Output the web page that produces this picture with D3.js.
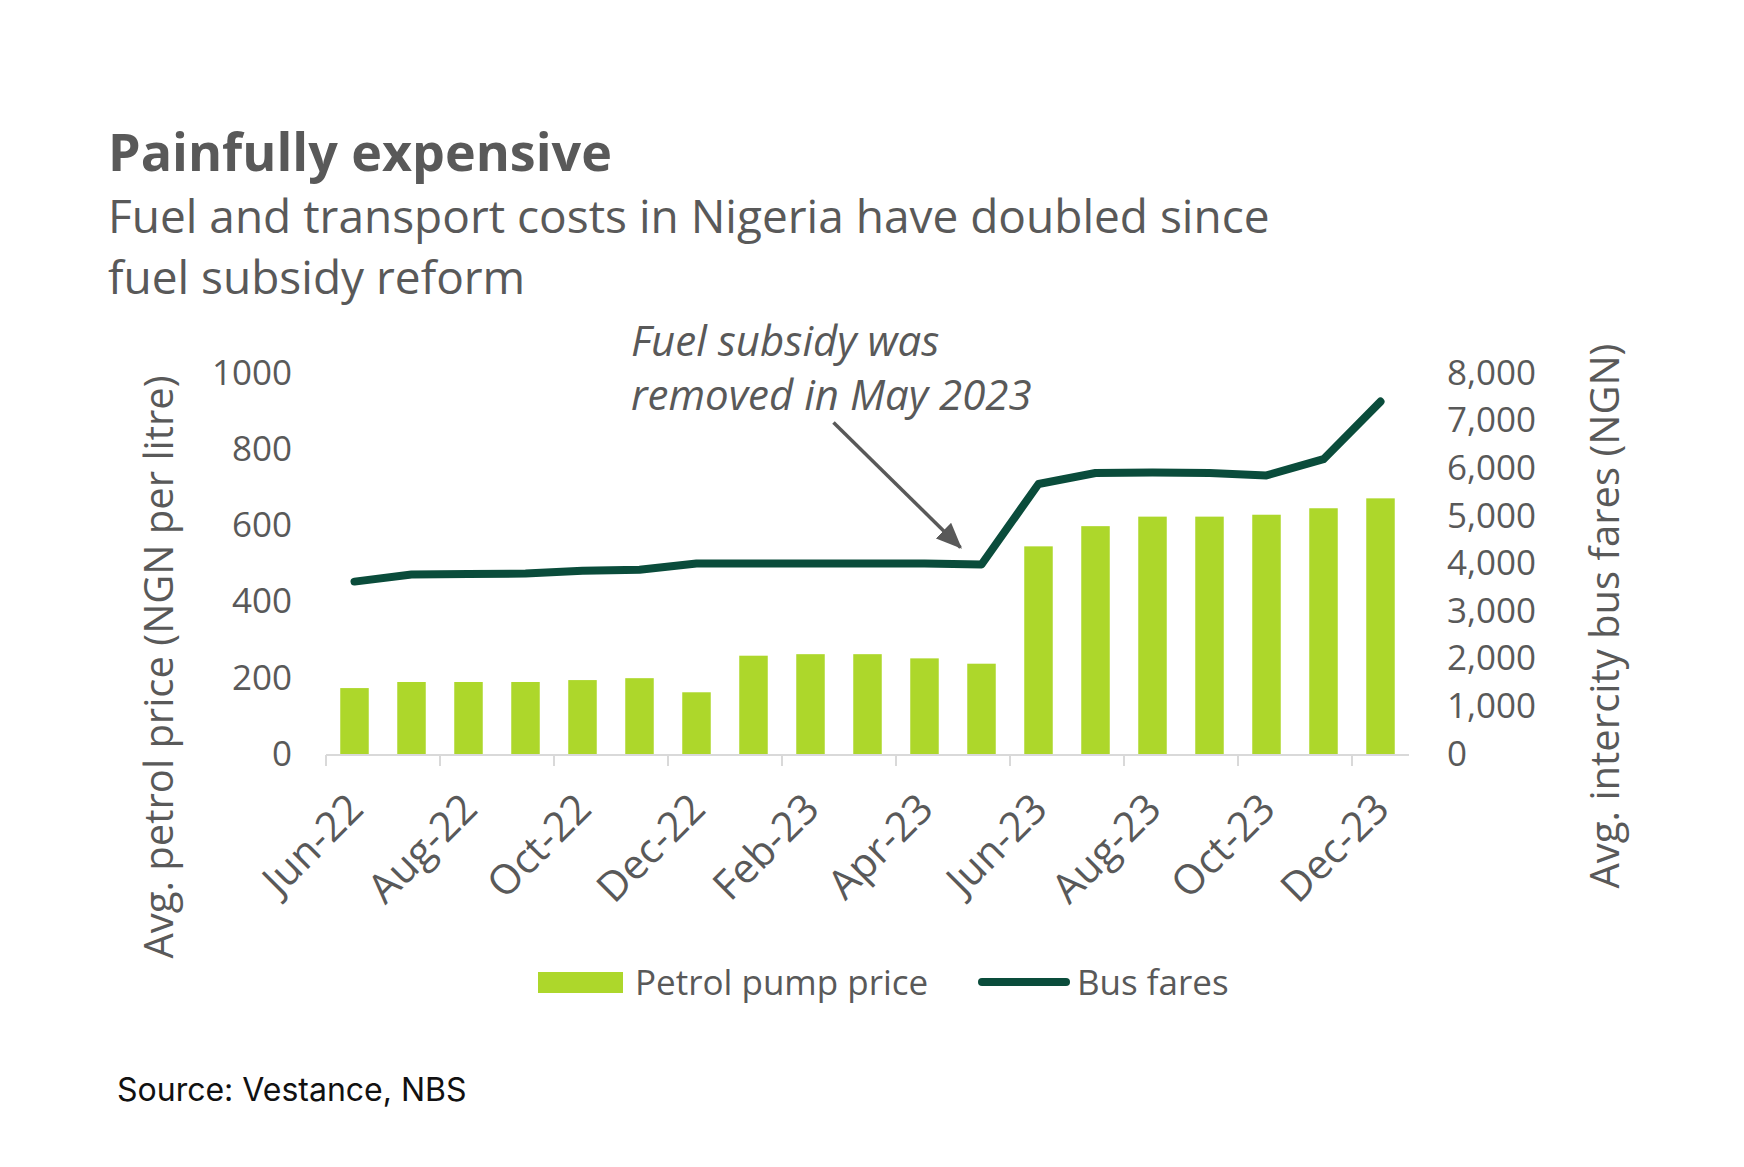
<!DOCTYPE html>
<html>
<head>
<meta charset="utf-8">
<script src="https://cdn.jsdelivr.net/npm/d3@7"></script>
<style>
  body { margin: 0; background: #fff; }
  text { font-family: "Open Sans", sans-serif; fill: #595959; }
</style>
</head>
<body>
<script>
// data
const months = ["Jun-22","Jul-22","Aug-22","Sep-22","Oct-22","Nov-22","Dec-22","Jan-23","Feb-23","Mar-23","Apr-23","May-23",
                "Jun-23","Jul-23","Aug-23","Sep-23","Oct-23","Nov-23","Dec-23"];
const petrol = [173, 189, 189, 189, 194, 199, 162, 258, 262, 262, 251, 237, 545, 598, 623, 623, 628, 645, 671];
const busFares = [3620, 3770, 3780, 3790, 3850, 3870, 4000, 4000, 4000, 4000, 4000, 3980, 5670, 5900, 5910, 5900, 5850, 6190, 7400];
const leftTicks = [0, 200, 400, 600, 800, 1000];
const rightTicks = [0, 1000, 2000, 3000, 4000, 5000, 6000, 7000, 8000];

const W = 1744, H = 1167;
const plotL = 326, plotR = 1409, plotT = 373, plotB = 754;

const svg = d3.select("body").append("svg").attr("width", W).attr("height", H);
svg.append("rect").attr("width", W).attr("height", H).attr("fill", "#fff");

const x = d3.scaleBand().domain(months).range([plotL, plotR]).padding(0);
const yL = d3.scaleLinear().domain([0, 1000]).range([plotB, plotT]);
const yR = d3.scaleLinear().domain([0, 8000]).range([plotB, plotT]);
const bw = x.bandwidth();

// titles
svg.append("text").attr("x", 108).attr("y", 171)
  .style("font-size", "52px").style("font-weight", 700).text("Painfully expensive");
svg.append("text").attr("x", 108).attr("y", 233)
  .style("font-size", "46px").text("Fuel and transport costs in Nigeria have doubled since");
svg.append("text").attr("x", 108).attr("y", 294)
  .style("font-size", "46px").text("fuel subsidy reform");

// bars
svg.selectAll("rect.bar").data(months).enter().append("rect")
  .attr("class", "bar")
  .attr("x", d => x(d) + bw * 0.25)
  .attr("width", bw * 0.5)
  .attr("y", (d, i) => yL(petrol[i]))
  .attr("height", (d, i) => yL(0) - yL(petrol[i]))
  .attr("fill", "#add72b");

// x axis line and ticks every second month
svg.append("line").attr("x1", plotL).attr("x2", plotR).attr("y1", plotB + 1).attr("y2", plotB + 1)
  .attr("stroke", "#d9d9d9").attr("stroke-width", 2);
const shown = months.filter((d, i) => i % 2 === 0);
svg.selectAll("line.tick").data(shown).enter().append("line")
  .attr("x1", d => x(d)).attr("x2", d => x(d))
  .attr("y1", plotB + 1).attr("y2", plotB + 12)
  .attr("stroke", "#d9d9d9").attr("stroke-width", 2);
svg.selectAll("text.xlab").data(shown).enter().append("text")
  .attr("class", "xlab")
  .attr("text-anchor", "end")
  .attr("dy", "0.35em")
  .attr("transform", d => `translate(${x(d) + bw / 2 + 1},${plotB + 47}) rotate(-45)`)
  .style("font-size", "41px")
  .text(d => d);

// y axes
const gl = svg.append("g").attr("transform", `translate(${plotL},0)`)
  .call(d3.axisLeft(yL).tickValues(leftTicks).tickSize(0).tickPadding(34).tickFormat(d3.format("d")));
const gr = svg.append("g").attr("transform", `translate(${plotR},0)`)
  .call(d3.axisRight(yR).tickValues(rightTicks).tickSize(0).tickPadding(38).tickFormat(d3.format(",")));
[gl, gr].forEach(g => {
  g.select(".domain").remove();
  g.selectAll("text").style("font-size", "35px").style("font-family", "'Open Sans', sans-serif").attr("fill", "#595959");
});

svg.append("text").attr("transform", "translate(173,667) rotate(-90)")
  .attr("text-anchor", "middle").style("font-size", "40px")
  .text("Avg. petrol price (NGN per litre)");
svg.append("text").attr("transform", "translate(1619,616) rotate(-90)")
  .attr("text-anchor", "middle").style("font-size", "40px")
  .text("Avg. intercity bus fares (NGN)");

// bus fare line
const line = d3.line()
  .x((d, i) => x(months[i]) + bw / 2)
  .y(d => yR(d));
svg.append("path").datum(busFares)
  .attr("d", line)
  .attr("fill", "none")
  .attr("stroke", "#0a4c3b")
  .attr("stroke-width", 8)
  .attr("stroke-linejoin", "round")
  .attr("stroke-linecap", "round");

// annotation
svg.append("text").attr("x", 631).attr("y", 356)
  .style("font-size", "42px").style("font-style", "italic").text("Fuel subsidy was");
svg.append("text").attr("x", 631).attr("y", 410)
  .style("font-size", "42px").style("font-style", "italic").text("removed in May 2023");

svg.append("defs").append("marker")
  .attr("id", "arrow").attr("markerUnits", "userSpaceOnUse")
  .attr("markerWidth", 26).attr("markerHeight", 22)
  .attr("refX", 24).attr("refY", 11).attr("orient", "auto")
  .append("path").attr("d", "M0,0 L26,11 L0,22 Z").attr("fill", "#595959");

const ax = x("May-23") + bw / 2 - 21, ay = yR(busFares[11]) - 17;
svg.append("line")
  .attr("x1", ax - 127).attr("y1", ay - 125)
  .attr("x2", ax).attr("y2", ay)
  .attr("stroke", "#595959").attr("stroke-width", 3.5)
  .attr("marker-end", "url(#arrow)");

// legend
svg.append("rect").attr("x", 538).attr("y", 972).attr("width", 85).attr("height", 21).attr("fill", "#add72b");
svg.append("text").attr("x", 635).attr("y", 983).attr("dy", "0.35em").style("font-size", "35px").text("Petrol pump price");
svg.append("line").attr("x1", 982).attr("x2", 1066).attr("y1", 982).attr("y2", 982)
  .attr("stroke", "#0a4c3b").attr("stroke-width", 8).attr("stroke-linecap", "round");
svg.append("text").attr("x", 1077).attr("y", 983).attr("dy", "0.35em").style("font-size", "35px").text("Bus fares");

// source
svg.append("text").attr("x", 117).attr("y", 1101)
  .style("font-family", "Inter, sans-serif").style("font-size", "32px").style("fill", "#111")
  .text("Source: Vestance, NBS");
</script>
</body>
</html>
